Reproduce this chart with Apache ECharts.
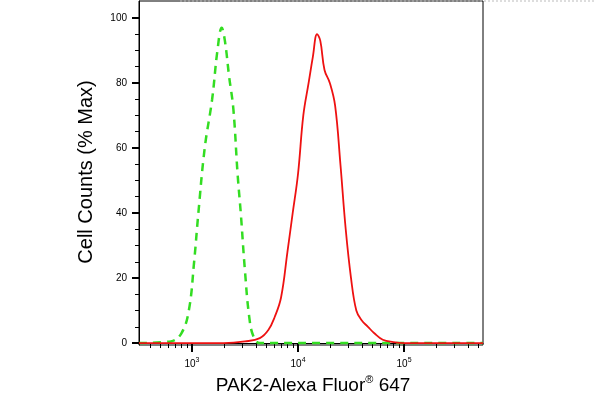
<!DOCTYPE html><html><head><meta charset="utf-8"><script src="https://cdn.jsdelivr.net/npm/echarts@6/dist/echarts.min.js"></script></head><body style="margin:0"><div id="c" style="width:594px;height:415px"></div><script>
const greenX=[2.5,2.8,2.9,2.97,3.02,3.06,3.12,3.19,3.24,3.28,3.31,3.35,3.39,3.43,3.46,3.5,3.54,3.58,3.64,5.745];
const greenY=[0,0.5,3,10,25,40,60,75,90,97,93,82,72,52,40,22,8,2,0,0];
const redX=[2.5,3.3,3.5,3.64,3.72,3.78,3.84,3.9,3.95,4.0,4.05,4.1,4.14,4.18,4.21,4.25,4.3,4.35,4.4,4.45,4.5,4.55,4.6,4.66,4.72,4.8,4.9,5.0,5.745];
const redY=[0,0,0.5,1.5,4,8,14,28,40,52,70,80,88,95,93,84,80,73,55,35,20,10,7,5,3,1,0.3,0,0];
const majorTicks=[3,4,5];
const yTicks=[0,20,40,60,80,100];
const minor=[];for(let d=2;d<=5;d++)for(let k=2;k<10;k++){const v=d+Math.log10(k);if(v>2.5&&v<5.745)minor.push(v);}
const ym=[];for(let v=5;v<105;v+=5)if(v%20)ym.push(v);
const z=(a,b)=>a.map((v,i)=>[v,b[i]]);
const xmin=2.5,xmax=5.745,ymin=-0.6,ymax=105.2;
const tickAxisX=(vals,len,w)=>({type:'value',min:xmin,max:xmax,position:'bottom',axisLine:{show:false},splitLine:{show:false},axisLabel:{show:false},axisTick:{show:true,customValues:vals,length:len,lineStyle:{color:'#000',width:w}}});
const tickAxisY=(vals,len,w)=>({type:'value',min:ymin,max:ymax,position:'left',axisLine:{show:false},splitLine:{show:false},axisLabel:{show:false},axisTick:{show:true,customValues:vals,length:len,lineStyle:{color:'#000',width:w}}});
const c=echarts.init(document.getElementById('c'));
c.setOption({animation:false,
grid:{left:139,right:111,top:1,bottom:70,show:true,borderColor:'#000',borderWidth:1},
graphic:[{type:'line',shape:{x1:180,y1:1,x2:594,y2:1},style:{stroke:'#bbb',lineDash:[2,2]}},
{type:'text',rotation:Math.PI/2,x:86,y:172,style:{text:'Cell Counts (% Max)',font:'20px Arial, Liberation Sans',fill:'#000',textAlign:'center',textVerticalAlign:'middle'}},
{type:'text',x:313,y:386,style:{rich:{a:{fontSize:19,fontFamily:'Liberation Sans'},s:{fontSize:11,fontFamily:'Liberation Sans',verticalAlign:'top',padding:[0,0,12,0]}},text:'{a|PAK2-Alexa Fluor}{s|®}{a| 647}',textAlign:'center',textVerticalAlign:'middle',fill:'#000'}}],
xAxis:[{type:'value',min:xmin,max:xmax,axisLine:{lineStyle:{color:'#000'}},splitLine:{show:false},
axisTick:{show:false},
axisLabel:{customValues:majorTicks,margin:12,formatter:v=>'{b|10}{s|'+v+'}',rich:{b:{fontSize:10,color:'#000',fontFamily:'Liberation Sans'},s:{fontSize:7,color:'#000',verticalAlign:'top',padding:[0,0,8,0]}}}},
tickAxisX(minor,5,1),tickAxisX(majorTicks,9,2)],
yAxis:[{type:'value',min:ymin,max:ymax,axisLine:{lineStyle:{color:'#000'}},splitLine:{show:false},
axisTick:{show:false},
axisLabel:{customValues:yTicks,color:'#000',fontSize:10,fontFamily:'Liberation Sans',margin:12}},
tickAxisY(ym,4,1),tickAxisY(yTicks,7,2)],
series:[
{type:'line',data:z(greenX,greenY),smooth:0.4,showSymbol:false,lineStyle:{color:'#33dd22',width:2.5,type:[8,6]}},
{type:'line',data:z(redX,redY),smooth:0.4,showSymbol:false,lineStyle:{color:'#ee1111',width:1.8}}]});
</script></body></html>
